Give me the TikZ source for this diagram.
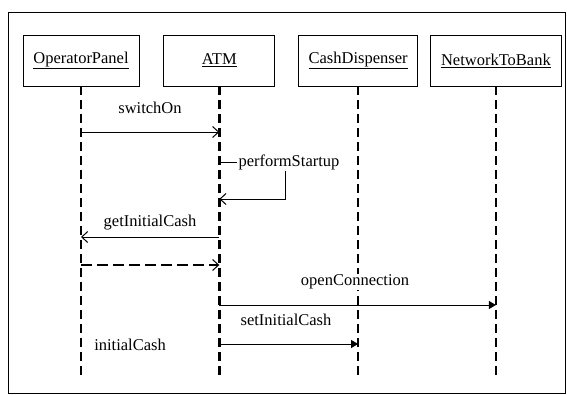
\documentclass[tikz,border=0pt]{standalone}
\usepackage{fontspec}
\setmainfont{Liberation Serif}
\usepackage{tikz}
\usetikzlibrary{arrows.meta,positioning,calc}

\begin{document}
\begin{tikzpicture}[
    x=1pt, y=-1pt,
    font=\fontsize{16.5}{18}\selectfont,
    obj/.style={rectangle, draw=black, line width=0.8pt, align=center, minimum height=51pt, inner sep=2pt},
    lifeline/.style={line width=2.4pt, dash pattern=on 9pt off 5pt},
    msg/.style={line width=1pt, -{Straight Barb[length=6pt,width=11pt,line width=1pt]}},
    call/.style={line width=1pt, -{Triangle[length=7pt,width=8pt]}},
    reply/.style={line width=2.6pt, dash pattern=on 11pt off 5pt, -{Straight Barb[length=6pt,width=11pt,line width=1pt]}},
    lbl/.style={inner sep=1pt, fill=white}
]
\useasboundingbox (0,0) rectangle (567,394);
\draw[line width=1pt] (8,12) rectangle (565,393);

\node[obj, minimum width=116pt] (op) at (81,60.5) {\underline{OperatorPanel}};
\node[obj, minimum width=111pt, right=24pt of op] (atm) {\underline{ATM}};
\node[obj, minimum width=119pt, right=23pt of atm] (cd) {\underline{CashDispenser}};
\node[obj, minimum width=131pt, right=12pt of cd] (ntb) {\underline{NetworkToBank}};

\draw[lifeline] (op.south) -- (op.south |- 0,376);
\draw[lifeline] (atm.south) -- (atm.south |- 0,376);
\draw[lifeline] (cd.south) -- (cd.south |- 0,376);
\draw[lifeline] (ntb.south) -- (ntb.south |- 0,376);

\node[lbl] (swon) at (150,108) {switchOn};
\node[lbl] (pstart) at (289,162) {performStartup};
\node[lbl] (getcash) at (150,223) {getInitialCash};
\node[lbl] (opencon) at (355,282) {openConnection};
\node[lbl] (setcash) at (286,320) {setInitialCash};
\node[lbl] (initcash) at (130,345) {initialCash};

\draw[msg] (op.south |- 0,132) -- (atm.south |- 0,132);
\draw[line width=1pt] (atm.south |- pstart) -- (pstart.west);
\draw[msg] ([xshift=-4pt]pstart.south) |- (atm.south |- 0,199);
\draw[msg] (atm.south |- 0,237) -- (op.south |- 0,237);
\draw[reply] (op.south |- 0,265) -- (atm.south |- 0,265);
\draw[call] (atm.south |- 0,305) -- (ntb.south |- 0,305);
\draw[call] (atm.south |- 0,344) -- (cd.south |- 0,344);
\end{tikzpicture}
\end{document}
